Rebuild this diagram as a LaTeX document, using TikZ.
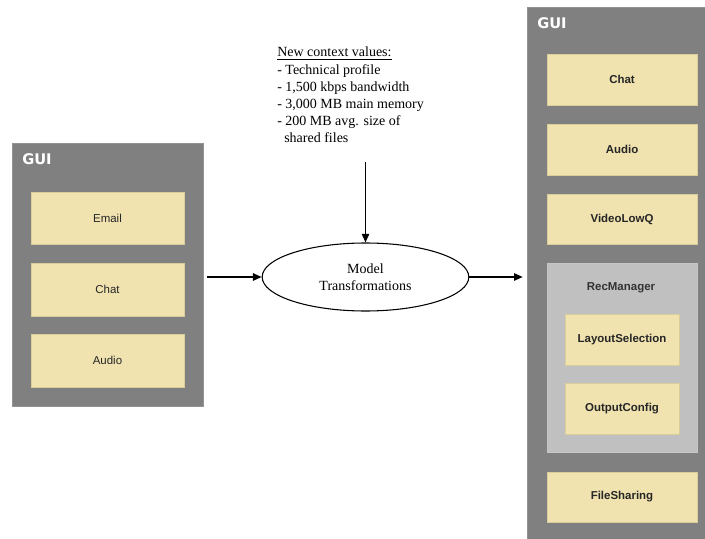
\documentclass[tikz,border=0pt]{standalone}
\usepackage{fontspec}
\setmainfont{Liberation Serif}
\setsansfont{Liberation Sans}
\newfontfamily\guifont[BoldFont={DejaVu Sans Bold}]{DejaVu Sans}
\usetikzlibrary{arrows.meta,shapes.geometric}
\definecolor{panelgray}{HTML}{808080}
\definecolor{groupgray}{HTML}{C0C0C0}
\definecolor{compfill}{HTML}{F0E3B0}
\definecolor{compline}{HTML}{D9CD9C}
\tikzset{
  panel/.style={fill=panelgray, draw=panelgray!85!white, line width=0.4pt, inner sep=0pt},
  group/.style={fill=groupgray, draw=groupgray!90!white, inner sep=0pt},
  comp/.style={fill=compfill, draw=compline, line width=0.4pt, inner sep=0pt,
    font=\sffamily\fontsize{8.6}{10}\selectfont, text=black!85},
  bcomp/.style={comp, font=\sffamily\bfseries\fontsize{8.6}{10}\selectfont},
  guilabel/.style={text=white, font=\guifont\bfseries\fontsize{11}{12}\selectfont, inner sep=0pt, anchor=north west},
  flow/.style={line width=1.2pt, -{Triangle[length=6.5pt,width=5.5pt]}},
}
% box from pixel corners: #1 name, #2 style, (x1,y1) (x2,y2), #7 text
\newcommand{\pxbox}[7]{%
  \node[#2, minimum width={(#5-#3)*0.75pt}, minimum height={(#6-#4)*0.75pt}]
    (#1) at ({(#3+#5)/2},{(#4+#6)/2}) {#7};}
\begin{document}
\begin{tikzpicture}[x=0.75pt,y=-0.75pt]
\useasboundingbox (0,0) rectangle (705,538);

% source GUI
\pxbox{gui1}{panel}{12}{143}{203}{406}{}
\node[guilabel] (gui1label) at (22,153) {GUI};
\pxbox{email}{comp}{31}{192}{184}{244}{Email}
\pxbox{chat1}{comp}{31}{263}{184}{316}{Chat}
\pxbox{audio1}{comp}{31}{334}{184}{387}{Audio}

% target GUI
\pxbox{gui2}{panel}{527}{7}{706}{539}{}
\node[guilabel] (gui2label) at (537,17) {GUI};
\pxbox{chat2}{bcomp}{547}{54}{697}{105}{Chat}
\pxbox{audio2}{bcomp}{547}{124}{697}{175}{Audio}
\pxbox{video}{bcomp}{547}{194}{697}{244}{VideoLowQ}
\pxbox{rec}{group}{547}{263}{697}{452}{}
\node[font=\sffamily\bfseries\fontsize{8.6}{10}\selectfont, text=black!80] (reclabel) at (621,288) {RecManager};
\pxbox{layout}{bcomp}{565}{314}{679}{365}{LayoutSelection}
\pxbox{output}{bcomp}{565}{383}{679}{434}{OutputConfig}
\pxbox{files}{bcomp}{547}{472}{697}{522}{FileSharing}

% transformation step
\node[draw, ellipse, line width=0.8pt, minimum width=155pt, minimum height=51pt,
  align=center, font=\fontsize{10.5}{12.5}\selectfont] (mt) at (365.5,277)
  {Model\\Transformations};

% context values
\node[anchor=north west, align=left, inner sep=0pt,
  font=\fontsize{10.5}{12.8}\selectfont] (ctx) at (277,47)
  {\underline{New context values:}\\
   - Technical profile\\
   - 1,500 kbps bandwidth\\
   - 3,000 MB main memory\\
   - 200 MB avg. size of\\
   \ \ shared files};

\coordinate (ctxout) at (365.5,162);
\draw[flow] (ctxout) -- (mt.north);
\draw[flow] ([xshift=3pt]gui1.east |- mt.west) -- (mt.west);
\draw[flow] (mt.east) -- ([xshift=-3pt]mt.east -| gui2.west);
\end{tikzpicture}
\end{document}
